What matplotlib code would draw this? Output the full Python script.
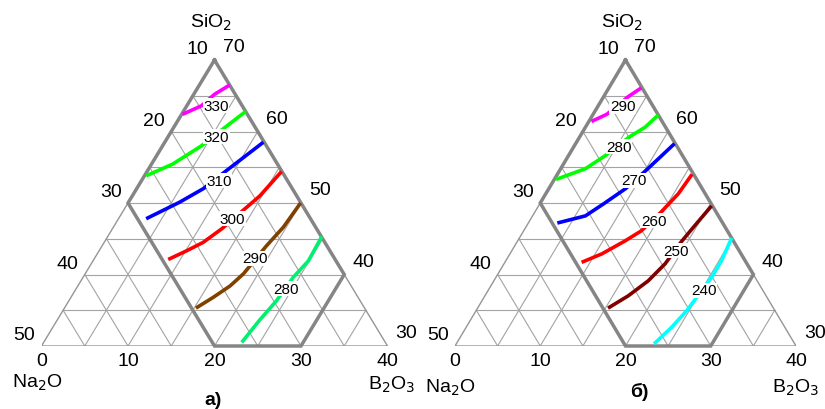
import numpy as np
import matplotlib as mpl
mpl.use('Agg')
import matplotlib.pyplot as plt

plt.rcParams['font.family'] = ['Liberation Sans', 'DejaVu Sans']

# axis readings
na2o_ticks = [10, 20, 30, 40, 50]
sio2_ticks = [70, 60, 50, 40, 30]
b2o3_ticks = [0, 10, 20, 30, 40]

# panel a) isotherms, read as (B2O3, SiO2) points
temps_a = [330, 320, 310, 300, 290, 280]
b2o3_a = [
    [0.1, 1.7, 2.4, 3.5],
    [0.2, 2.45, 4.5, 5.8, 7.2],
    [3.2, 5.9, 7.7, 9.1, 11.4],
    [8.6, 10.1, 11.45, 12.65, 13.7, 14.75, 15.55],
    [15.2, 16.45, 17.6, 18.3, 19.0, 19.65, 19.95],
    [22.9, 23.4, 24.0, 24.3, 24.9, 24.75],
]
sio2_a = [
    [62.4, 63.6, 65.2, 66.5],
    [53.8, 55.45, 58.0, 60.35, 62.8],
    [47.8, 50.1, 52.0, 54.5, 58.5],
    [42.1, 43.3, 44.5, 46.4, 48.7, 51.0, 54.4],
    [35.3, 36.8, 38.4, 40.1, 44.0, 46.6, 50.0],
    [30.5, 33.6, 36.3, 39.6, 41.9, 45.3],
]

# panel б) isotherms
temps_b = [290, 280, 270, 260, 250, 240]
b2o3_b = [
    [0.3, 1.6, 2.9, 3.8],
    [0.2, 2.9, 4.3, 5.8, 7.0, 7.7],
    [3.4, 6.2, 7.5, 9.0, 10.1, 11.6],
    [9.0, 10.8, 12.6, 13.8, 14.8, 15.55, 15.8],
    [15.3, 16.8, 18.1, 18.9, 19.25, 19.7, 20.3],
    [23.2, 24.1, 24.7, 24.95, 25.3, 25.3, 24.9],
]
sio2_b = [
    [61.4, 62.4, 64.9, 66.1],
    [53.3, 54.8, 56.6, 59.2, 60.6, 62.3],
    [47.2, 48.2, 49.9, 52.0, 54.5, 58.3],
    [41.7, 42.9, 44.7, 46.1, 48.7, 51.3, 54.0],
    [35.3, 37.0, 39.1, 41.5, 44.55, 46.8, 49.6],
    [30.3, 32.6, 34.9, 36.8, 39.6, 41.9, 45.1],
]

colors_a = ['#ff00ff', '#00ff00', '#0000ff', '#ff0000', '#804000', '#00f070']
colors_b = ['#ff00ff', '#00ff00', '#0000ff', '#ff0000', '#800000', '#00ffff']

# where the isotherm labels sit (B2O3, SiO2)
lab_a = [(3.4, 63.6), (5.6, 59.3), (9.0, 53.1), (13.2, 47.8), (18.5, 42.3), (24.3, 38.0)]
lab_b = [(2.9, 63.5), (5.3, 57.9), (9.35, 53.2), (14.55, 47.5), (19.3, 43.3), (25.25, 37.8)]


def tri(b, s):
    b = np.asarray(b, float)
    v = np.asarray(s, float) - 30
    return b + v / 2, v


def draw_panel(ax, temps, bb, ss, colors, labs):
    ax.set_xlim(0, 40)
    ax.set_ylim(0, 40)
    ax.axis('off')
    grid = dict(color='#a3a3a3', lw=0.8, zorder=1)
    for k in range(5, 40, 5):
        ax.plot([k / 2, 40 - k / 2], [k, k], **grid)
        ax.plot([k, k + (40 - k) / 2], [0, 40 - k], **grid)
        ax.plot([k, k / 2], [0, k], **grid)
    ax.plot([0, 40, 20, 0], [0, 0, 40, 0], color='#959595', lw=1.0, zorder=1)
    # thick outline
    pu = [0, 0, 20, 30, 30, 0]
    pv = [40, 20, 0, 0, 10, 40]
    ax.plot([u + v / 2 for u, v in zip(pu, pv)], pv, color='#858585',
            lw=2.5, solid_joinstyle='miter', zorder=2, clip_on=False)

    for t, b, s, c, (lb, ls) in zip(temps, bb, ss, colors, labs):
        x, y = tri(b, s)
        ax.plot(x, y, color=c, lw=2.6, solid_capstyle='butt', zorder=3, clip_on=False)
        lx, ly = tri(lb, ls)
        ax.text(lx, ly, str(t), fontsize=11, ha='center', va='center', zorder=4,
                bbox=dict(fc='white', ec='none', pad=0.3))

    fs = 14
    for n in na2o_ticks:
        v = 50 - n
        ax.annotate(str(n), (v / 2, v), xytext=(-17, 11), textcoords='offset pixels',
                    ha='center', va='center', fontsize=fs, annotation_clip=False)
    for s in sio2_ticks:
        v = s - 30
        ax.annotate(str(s), (40 - v / 2, v), xytext=(19, 13), textcoords='offset pixels',
                    ha='center', va='center', fontsize=fs, annotation_clip=False)
    for b in b2o3_ticks:
        ax.annotate(str(b), (b, 0), xytext=(0, -15), textcoords='offset pixels',
                    ha='center', va='center', fontsize=fs, annotation_clip=False)
    ax.annotate('SiO$_2$', (20, 40), xytext=(-4, 38), textcoords='offset pixels',
                ha='center', va='center', fontsize=fs, annotation_clip=False)


fig = plt.figure(figsize=(8.25, 4.1), dpi=100)
W, H = 825.0, 410.0
ax1 = fig.add_axes([41.5 / W, 63 / H, 346 / W, 286 / H])
ax2 = fig.add_axes([455 / W, 63 / H, 341 / W, 286 / H])

draw_panel(ax1, temps_a, b2o3_a, sio2_a, colors_a, lab_a)
draw_panel(ax2, temps_b, b2o3_b, sio2_b, colors_b, lab_b)

# component names and captions (figure pixels)
txt = dict(xycoords='figure pixels', ha='center', va='center', fontsize=14)
ax1.annotate('Na$_2$O', (37, H - 383), **txt)
ax1.annotate('B$_2$O$_3$', (392, H - 385), **txt)
ax1.annotate('а)', (213, H - 401), fontweight='bold', **txt)
ax2.annotate('Na$_2$O', (450, H - 388), **txt)
ax2.annotate('B$_2$O$_3$', (796, H - 388), **txt)
ax2.annotate('б)', (639, H - 392), fontweight='bold', **txt)

plt.savefig('out.png', dpi=100)
